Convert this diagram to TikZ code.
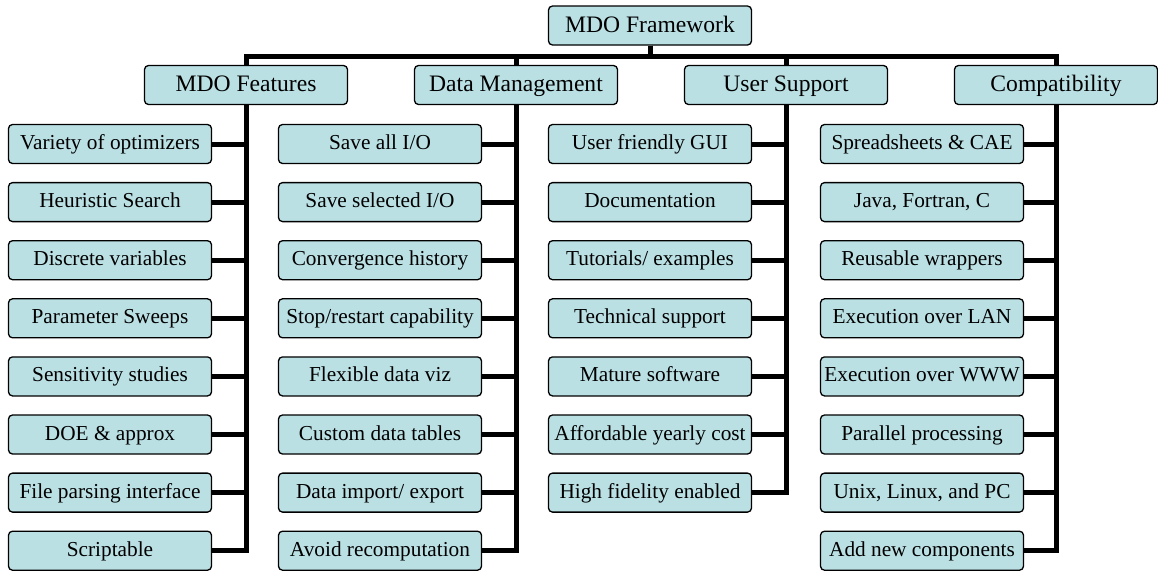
\documentclass[tikz,border=0pt]{standalone}
\usepackage{fontspec}
\setmainfont{Liberation Serif}
\usetikzlibrary{positioning}
\definecolor{boxcyan}{RGB}{186,224,228}
\newcommand{\spine}[2]
{
	\draw[bar] (#1.south) |- (#2.east)
}
\newcommand{\twig}[2]
{
	\draw[bar] (#2.east) -- (#2.east -| #1.south)
}
\newcommand{\hang}[2]
{
	\draw[bar] (#2.south) -- +(0,10.5) -| (#1.north)
}

\begin{document}
\begin{tikzpicture}[x=1pt, y=-1pt,
	item/.style={draw=black, fill=boxcyan, line width=1.3pt, rounded corners=4pt,
		minimum width=203pt, minimum height=39pt, inner sep=0pt,
		text height=16pt, text depth=5pt,
		font=\fontsize{21.3}{24}\selectfont},
	head/.style={item, text height=17pt, text depth=4pt,
		font=\fontsize{23.6}{26}\selectfont},
	bar/.style={line width=5pt}]
	\useasboundingbox (0,0) rectangle (1158,579);

	\node[head] (Root) at (650,25.5) {MDO Framework};
	\node[head] (Feat) at (246,85) {MDO Features};
	\node[head] (Data) at (516,85) {Data Management};
	\node[head] (User) at (786,85) {User Support};
	\node[head] (Comp) at (1056,85) {Compatibility};
	\hang{Feat}{Root};
	\hang{Data}{Root};
	\hang{User}{Root};
	\hang{Comp}{Root};

	\node[item] (F1) at (110,144) {Variety of optimizers};
	\node[item] (F2) at (110,202.1) {Heuristic Search};
	\node[item] (F3) at (110,260.2) {Discrete variables};
	\node[item] (F4) at (110,318.3) {Parameter Sweeps};
	\node[item] (F5) at (110,376.4) {Sensitivity studies};
	\node[item] (F6) at (110,434.5) {DOE \& approx};
	\node[item] (F7) at (110,492.6) {File parsing interface};
	\node[item] (F8) at (110,550.7) {Scriptable};
	\spine{Feat}{F8};
	\twig{Feat}{F1};
	\twig{Feat}{F2};
	\twig{Feat}{F3};
	\twig{Feat}{F4};
	\twig{Feat}{F5};
	\twig{Feat}{F6};
	\twig{Feat}{F7};

	\node[item] (D1) at (380,144) {Save all I/O};
	\node[item] (D2) at (380,202.1) {Save selected I/O};
	\node[item] (D3) at (380,260.2) {Convergence history};
	\node[item] (D4) at (380,318.3) {Stop/restart capability};
	\node[item] (D5) at (380,376.4) {Flexible data viz};
	\node[item] (D6) at (380,434.5) {Custom data tables};
	\node[item] (D7) at (380,492.6) {Data import/ export};
	\node[item] (D8) at (380,550.7) {Avoid recomputation};
	\spine{Data}{D8};
	\twig{Data}{D1};
	\twig{Data}{D2};
	\twig{Data}{D3};
	\twig{Data}{D4};
	\twig{Data}{D5};
	\twig{Data}{D6};
	\twig{Data}{D7};

	\node[item] (U1) at (650,144) {User friendly GUI};
	\node[item] (U2) at (650,202.1) {Documentation};
	\node[item] (U3) at (650,260.2) {Tutorials/ examples};
	\node[item] (U4) at (650,318.3) {Technical support};
	\node[item] (U5) at (650,376.4) {Mature software};
	\node[item] (U6) at (650,434.5) {Affordable yearly cost};
	\node[item] (U7) at (650,492.6) {High fidelity enabled};
	\spine{User}{U7};
	\twig{User}{U1};
	\twig{User}{U2};
	\twig{User}{U3};
	\twig{User}{U4};
	\twig{User}{U5};
	\twig{User}{U6};

	\node[item] (C1) at (922,144) {Spreadsheets \& CAE};
	\node[item] (C2) at (922,202.1) {Java, Fortran, C};
	\node[item] (C3) at (922,260.2) {Reusable wrappers};
	\node[item] (C4) at (922,318.3) {Execution over LAN};
	\node[item] (C5) at (922,376.4) {Execution over WWW};
	\node[item] (C6) at (922,434.5) {Parallel processing};
	\node[item] (C7) at (922,492.6) {Unix, Linux, and PC};
	\node[item] (C8) at (922,550.7) {Add new components};
	\spine{Comp}{C8};
	\twig{Comp}{C1};
	\twig{Comp}{C2};
	\twig{Comp}{C3};
	\twig{Comp}{C4};
	\twig{Comp}{C5};
	\twig{Comp}{C6};
	\twig{Comp}{C7};
\end{tikzpicture}
\end{document}
